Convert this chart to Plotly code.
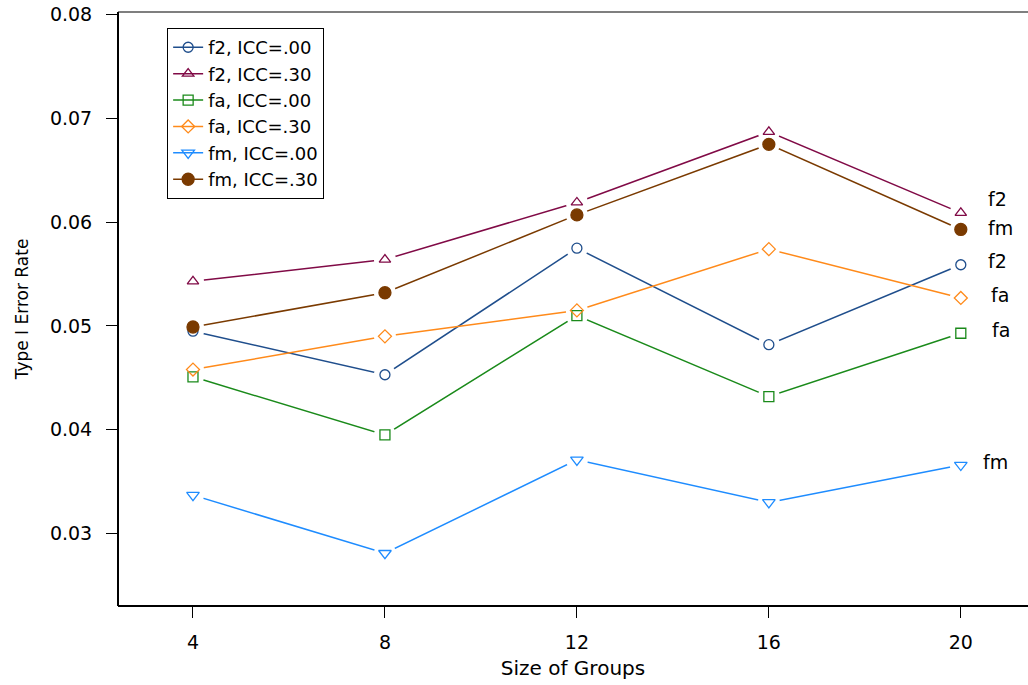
import plotly.graph_objects as go

group_sizes = [4, 8, 12, 16, 20]
x_ticks = [4, 8, 12, 16, 20]
y_ticks = [0.03, 0.04, 0.05, 0.06, 0.07, 0.08]
y_tick_labels = ["0.03", "0.04", "0.05", "0.06", "0.07", "0.08"]

f2_icc00 = [0.0495, 0.0453, 0.0575, 0.0482, 0.0559]
f2_icc30 = [0.0543, 0.0564, 0.0619, 0.0687, 0.0609]
fa_icc00 = [0.0451, 0.0395, 0.0510, 0.0432, 0.0493]
fa_icc30 = [0.0458, 0.0490, 0.0515, 0.0574, 0.0527]
fm_icc00 = [0.0337, 0.0281, 0.0371, 0.0330, 0.0366]
fm_icc30 = [0.0499, 0.0532, 0.0607, 0.0675, 0.0593]

series_names = ["f2, ICC=.00", "f2, ICC=.30", "fa, ICC=.00", "fa, ICC=.30", "fm, ICC=.00", "fm, ICC=.30"]
series_values = [f2_icc00, f2_icc30, fa_icc00, fa_icc30, fm_icc00, fm_icc30]
end_labels = ["f2", "f2", "fa", "fa", "fm", "fm"]

colors = ["#1f4e8c", "#800a46", "#1a8a1a", "#ff8a1a", "#1e8cff", "#7a3a00"]
symbols = ["circle-open", "triangle-up-open", "square-open", "diamond-open", "triangle-down-open", "circle"]
msizes = [10, 10, 10, 10, 11, 12]
label_shift = [(37, 4), (37, 14), (40, 3), (39, 3), (35, 3), (40, 1)]

FONT = "DejaVu Sans, Liberation Sans, Arial, sans-serif"
fig = go.Figure()

# lines (with legend entries)
for name, vals, c, s, ms in zip(series_names, series_values, colors, symbols, msizes):
    fig.add_trace(go.Scatter(x=group_sizes, y=vals, mode="lines+markers", name=name,
                             line=dict(color=c, width=1.5),
                             marker=dict(symbol=s, size=ms, color=c, line=dict(color=c, width=1.3)),
                             showlegend=True))
# white masks to create gaps around markers
for vals in series_values:
    fig.add_trace(go.Scatter(x=group_sizes, y=vals, mode="markers", showlegend=False,
                             hoverinfo="skip",
                             marker=dict(symbol="circle", size=22, color="white", line=dict(width=0))))
# markers on top
for name, vals, c, s, ms in zip(series_names, series_values, colors, symbols, msizes):
    fig.add_trace(go.Scatter(x=group_sizes, y=vals, mode="markers", showlegend=False, name=name,
                             marker=dict(symbol=s, size=ms, color=c, line=dict(color=c, width=1.3))))

# end labels
for lab, vals, (xs, ys) in zip(end_labels, series_values, label_shift):
    fig.add_annotation(x=group_sizes[-1], y=vals[-1], text=lab, showarrow=False,
                       xref="x", yref="y", xanchor="center", yanchor="middle",
                       xshift=xs, yshift=ys, font=dict(family=FONT, size=19, color="black"))

# frame
fig.add_shape(type="line", xref="paper", yref="paper", x0=0, x1=0, y0=0, y1=1,
              line=dict(color="black", width=2))
fig.add_shape(type="line", xref="paper", yref="paper", x0=0, x1=1, y0=0, y1=0,
              line=dict(color="black", width=2))
fig.add_shape(type="line", xref="paper", yref="paper", x0=0, x1=1, y0=1, y1=1,
              line=dict(color="black", width=1.2))

fig.update_layout(
    width=1028, height=685,
    margin=dict(l=118, r=0, t=12, b=79),
    plot_bgcolor="white", paper_bgcolor="white",
    font=dict(family=FONT, size=19, color="black"),
    legend=dict(x=0.054, y=0.973, xanchor="left", yanchor="top",
                bordercolor="black", borderwidth=1, bgcolor="white",
                font=dict(family=FONT, size=18), tracegroupgap=0),
    xaxis=dict(range=[2.4375, 21.40], tickvals=x_ticks, ticktext=[str(v) for v in x_ticks],
               showgrid=False, zeroline=False, showline=False,
               ticks="outside", ticklen=11, tickcolor="black", tickwidth=1,
               ticklabelstandoff=8,
               tickfont=dict(size=19),
               title=dict(text="Size of Groups", font=dict(size=20), standoff=9)),
    yaxis=dict(range=[0.02302, 0.08025], tickvals=y_ticks, ticktext=y_tick_labels,
               showgrid=False, zeroline=False, showline=False,
               ticks="outside", ticklen=11, tickcolor="black", tickwidth=1,
               ticklabelstandoff=10,
               tickfont=dict(size=19),
               title=dict(text="Type I Error Rate", font=dict(size=17), standoff=16)),
)

fig.write_html("out.html")
